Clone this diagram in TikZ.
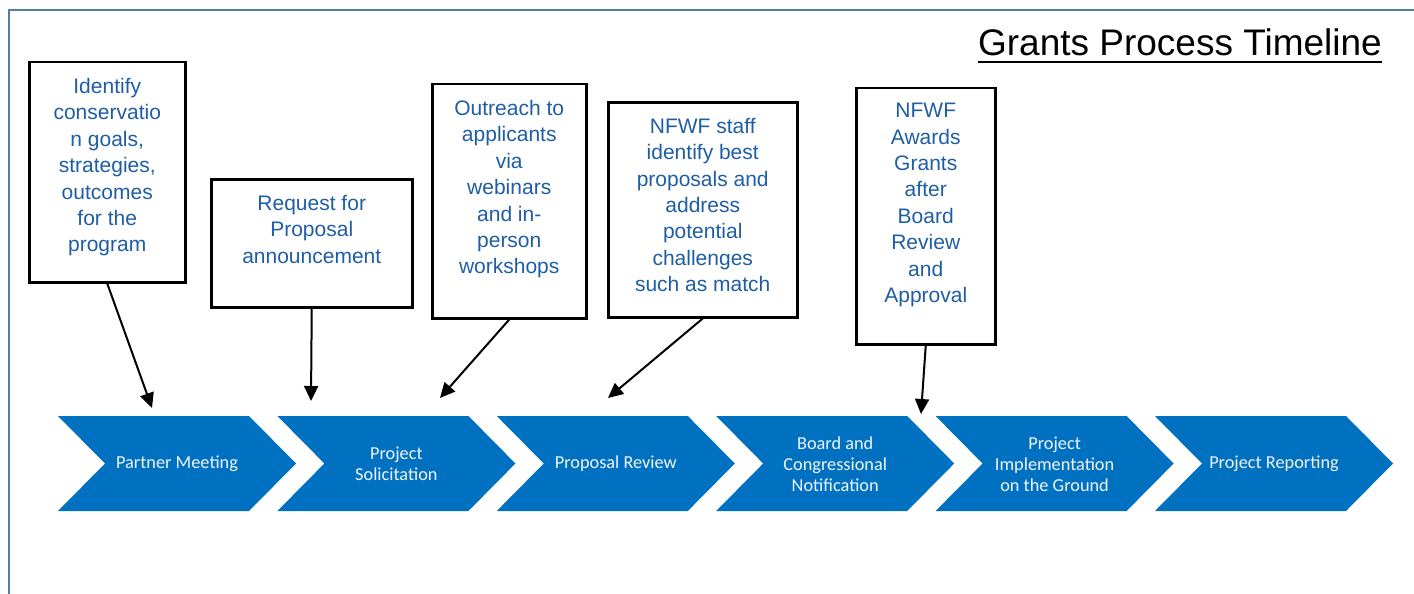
\documentclass[tikz,border=0pt]{standalone}
\usepackage{fontspec}
\setmainfont{Liberation Sans}
\newfontfamily\chevfont{Carlito}
\usetikzlibrary{arrows.meta,calc}
\definecolor{framecol}{RGB}{84,125,170}
\definecolor{boxtext}{RGB}{31,94,165}
\definecolor{chevfill}{RGB}{0,112,192}
\definecolor{chevtext}{RGB}{240,245,250}
\tikzset{
  infobox/.style={draw=black, line width=2.5pt, fill=white, rectangle, inner sep=0pt, anchor=north west},
  infotext/.style={text=boxtext, align=center, inner sep=0pt, anchor=north, font={\fontsize{21}{26.4}\selectfont}},
  chevlabel/.style={text=chevtext, align=center, inner sep=0pt, font={\chevfont\fontsize{18.3}{21}\selectfont}},
  pointer/.style={draw=black, line width=2pt, -{Triangle[length=15pt,width=14pt]}},
  chevshape/.style={fill=chevfill, draw=none}
}
\begin{document}
\begin{tikzpicture}[x=1pt,y=-1pt]
\useasboundingbox (0,0) rectangle (1414,594);
% frame
\draw[framecol, line width=2.2pt] (8.7,600) -- (8.7,10) -- (1420,10);
% title
\node[inner sep=0pt, anchor=base east, font={\fontsize{37}{44}\selectfont}] (title) at (1382,55.5) {Grants Process Timeline};
\draw[line width=2.6pt] ($(title.base west)+(0,6.5)$) -- ($(title.base east)+(0,6.5)$);
% chevrons
\foreach \i/\txt in {0/{Partner Meeting},1/{Project\\Solicitation},2/{Proposal Review},3/{Board and\\Congressional\\Notification},4/{Project\\Implementation\\on the Ground},5/{Project Reporting}}{
  \pgfmathsetmacro{\L}{58+219.4*\i}
  \fill[chevshape] (\L,416) -- (\L+191,416) -- (\L+238,463.5) -- (\L+191,511) -- (\L,511) -- (\L+47,463.5) -- cycle;
  \node[chevlabel] (c\i) at (\L+119,464) {\txt};
}
% boxes
\node[infobox, minimum width=156pt, minimum height=220pt] (b1) at (28,61) {};
\node[infotext] (t1) at ($(b1.north)+(0,17)$) {Identify\\conservatio\\n goals,\\strategies,\\outcomes\\for the\\program};
\node[infobox, minimum width=201pt, minimum height=128pt] (b2) at (210,178) {};
\node[infotext] (t2) at ($(b2.north)+(0,17)$) {Request for\\Proposal\\announcement};
\node[infobox, minimum width=154pt, minimum height=234pt] (b3) at (431,83) {};
\node[infotext] (t3) at ($(b3.north)+(0,17)$) {Outreach to\\applicants\\via\\webinars\\and in-\\person\\workshops};
\node[infobox, minimum width=189pt, minimum height=215pt] (b4) at (607,101) {};
\node[infotext] (t4) at ($(b4.north)+(0,17)$) {NFWF staff\\identify best\\proposals and\\address\\potential\\challenges\\such as match};
\node[infobox, minimum width=139pt, minimum height=256pt] (b5) at (855,87) {};
\node[infotext] (t5) at ($(b5.north)+(0,16)$) {NFWF\\Awards\\Grants\\after\\Board\\Review\\and\\Approval};
% arrow targets
\coordinate (e1) at (152,408);
\coordinate (e2) at (311,401);
\coordinate (e3) at (440,398);
\coordinate (e4) at (608,398);
\coordinate (e5) at (921,414);
\draw[pointer] (b1.south) -- (e1);
\draw[pointer] (b2.south) -- (e2);
\draw[pointer] (b3.south) -- (e3);
\draw[pointer] (b4.south) -- (e4);
\draw[pointer] (b5.south) -- (e5);
\end{tikzpicture}
\end{document}
